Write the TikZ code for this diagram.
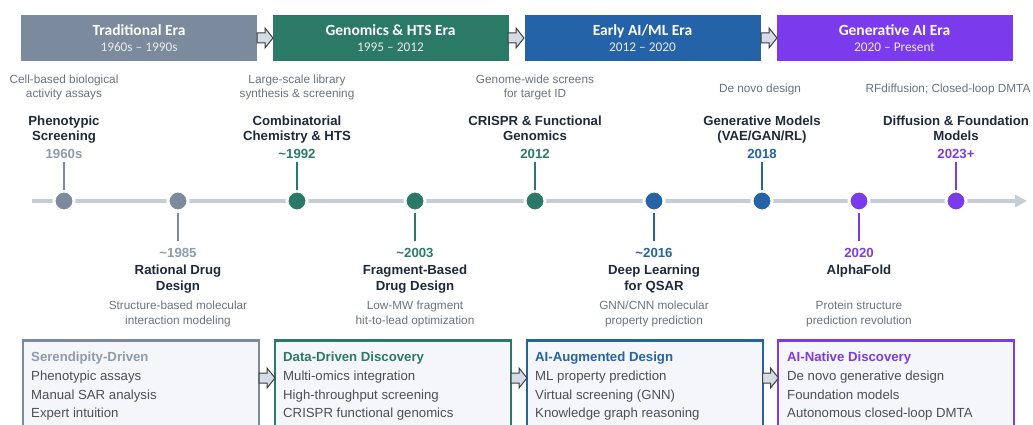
\documentclass[tikz,border=0pt]{standalone}
\usepackage{fontspec}
\setmainfont{Liberation Sans}
\newfontfamily\erafont{Carlito}
\usetikzlibrary{arrows.meta}

\definecolor{tradc}{HTML}{7B8A9C}
\definecolor{tradlt}{HTML}{8E9BAC}
\definecolor{genc}{HTML}{2B7A68}
\definecolor{mlc}{HTML}{2563A8}
\definecolor{aic}{HTML}{7C3AED}
\definecolor{inkc}{HTML}{1E293B}
\definecolor{descc}{HTML}{6B7280}
\definecolor{itemc}{HTML}{4B5058}
\definecolor{linec}{HTML}{C5CED6}
\definecolor{panelc}{HTML}{F4F6F9}
\definecolor{arrfill}{HTML}{D5DCE5}
\definecolor{arrline}{HTML}{3A3D42}

\tikzset{
  erabox/.style={fill=#1, draw=none, minimum width=236, minimum height=46, inner sep=0},
  erahead/.style={anchor=base, inner sep=0, text=white, font=\erafont\fontsize{15.5}{17}\selectfont\bfseries},
  erasub/.style={anchor=base, inner sep=0, text=white!92!black, font=\erafont\fontsize{13.3}{15}\selectfont},
  msdot/.style={circle, fill=#1, draw=white, line width=3, minimum size=20, inner sep=0},
  mstem/.style={draw=#1, line width=1.5},
  mstitle/.style={anchor=base, inner sep=0, text=inkc, font=\fontsize{13.2}{15}\selectfont\bfseries},
  msyear/.style={anchor=base, inner sep=0, text=#1, font=\fontsize{13.2}{15}\selectfont\bfseries},
  msdesc/.style={anchor=base, inner sep=0, text=descc, font=\fontsize{11.8}{14}\selectfont},
  panel/.style={fill=panelc, draw=#1, line width=1.2},
  panelhead/.style={anchor=base west, inner sep=0, text=#1, font=\fontsize{13.2}{15}\selectfont\bfseries},
  panelitem/.style={anchor=base west, inner sep=0, text=itemc, font=\fontsize{13.2}{15}\selectfont},
  blockarrow/.style={fill=arrfill, draw=arrline, line width=1, line join=miter},
  axis/.style={draw=linec, line width=4, -{Triangle[length=12, width=12]}}
}

% block arrow centred on a named coordinate
\newcommand\blockarr[1]{%
  \draw[blockarrow] ([shift={(-8,-5)}]#1) -- ([shift={(0,-5)}]#1) -- ([shift={(0,-10)}]#1)
    -- ([shift={(8,0)}]#1) -- ([shift={(0,10)}]#1) -- ([shift={(0,5)}]#1)
    -- ([shift={(-8,5)}]#1) -- cycle;}

% milestone above the axis: name, x, colour, title line 1, title line 2, year
\newcommand\msabove[6]{%
  \node[msdot=#3] (#1) at (#2,201) {};
  \coordinate (#1s) at (#2,162);
  \draw[mstem=#3] (#1s) -- (#1);
  \node[mstitle] (#1ta) at (#2,125) {#4};
  \node[mstitle] (#1tb) at (#2,141) {#5};
  \node[msyear=#3] (#1y) at (#2,158) {#6};}

% milestone below the axis: name, x, colour, year, title line 1, title line 2
\newcommand\msbelow[6]{%
  \node[msdot=#3] (#1) at (#2,201) {};
  \coordinate (#1s) at (#2,241);
  \draw[mstem=#3] (#1) -- (#1s);
  \node[msyear=#3] (#1y) at (#2,257) {#4};
  \node[mstitle] (#1ta) at (#2,274) {#5};
  \node[mstitle] (#1tb) at (#2,290) {#6};}

\begin{document}
\begin{tikzpicture}[x=1pt, y=-1pt]
\useasboundingbox (0,0) rectangle (1033,425);
\clip (0,0) rectangle (1033,425);

% era banner
\node[erabox=tradc] (eraA) at (139,38) {};
\node[erabox=genc]  (eraB) at (390.5,38) {};
\node[erabox=mlc]   (eraC) at (642.5,38) {};
\node[erabox=aic]   (eraD) at (894.5,38) {};
\node[erahead] (eraAh) at (139,36) {Traditional Era};
\node[erasub]  (eraAs) at (139,52) {1960s – 1990s};
\node[erahead] (eraBh) at (390.5,36) {Genomics \& HTS Era};
\node[erasub]  (eraBs) at (390.5,52) {1995 – 2012};
\node[erahead] (eraCh) at (642.5,36) {Early AI/ML Era};
\node[erasub]  (eraCs) at (642.5,52) {2012 – 2020};
\node[erahead] (eraDh) at (894.5,36) {Generative AI Era};
\node[erasub]  (eraDs) at (894.5,52) {2020 – Present};
\coordinate (ab1) at (265,38);
\coordinate (ab2) at (516,38);
\coordinate (ab3) at (769,38);
\blockarr{ab1}\blockarr{ab2}\blockarr{ab3}

% time axis
\coordinate (axL) at (32,201);
\coordinate (axR) at (1027,201);
\draw[axis] (axL) -- (axR);

% milestones
\msabove{m1}{64}{tradc}{Phenotypic}{Screening}{\textcolor{tradlt}{1960s}}
\msbelow{m2}{178}{tradc}{\textcolor{tradlt}{\textasciitilde1985}}{Rational Drug}{Design}
\msabove{m3}{297}{genc}{Combinatorial}{Chemistry \& HTS}{\textasciitilde1992}
\msbelow{m4}{415}{genc}{\textasciitilde2003}{Fragment-Based}{Drug Design}
\msabove{m5}{535}{genc}{CRISPR \& Functional}{Genomics}{2012}
\msbelow{m6}{654}{mlc}{\textasciitilde2016}{Deep Learning}{for QSAR}
\msabove{m7}{762}{mlc}{Generative Models}{(VAE/GAN/RL)}{2018}
\msbelow{m8}{859}{aic}{2020}{AlphaFold}{}
\msabove{m9}{956}{aic}{Diffusion \& Foundation}{Models}{2023+}

% short descriptions
\node[msdesc] (d1a) at (64,84)  {Cell-based biological};
\node[msdesc] (d1b) at (64,98)  {activity assays};
\node[msdesc] (d3a) at (297,84) {Large-scale library};
\node[msdesc] (d3b) at (297,98) {synthesis \& screening};
\node[msdesc] (d5a) at (535,84) {Genome-wide screens};
\node[msdesc] (d5b) at (535,98) {for target ID};
\node[msdesc] (d7)  at (760,93) {De novo design};
\node[msdesc] (d9)  at (948,93) {RFdiffusion; Closed-loop DMTA};
\node[msdesc] (d2a) at (178,309) {Structure-based molecular};
\node[msdesc] (d2b) at (178,324) {interaction modeling};
\node[msdesc] (d4a) at (415,309) {Low-MW fragment};
\node[msdesc] (d4b) at (415,324) {hit-to-lead optimization};
\node[msdesc] (d6a) at (654,309) {GNN/CNN molecular};
\node[msdesc] (d6b) at (654,324) {property prediction};
\node[msdesc] (d8a) at (859,309) {Protein structure};
\node[msdesc] (d8b) at (859,324) {prediction revolution};

% paradigm panels
\foreach \px/\pc in {23/tradc, 275/genc, 527/mlc, 778/aic}{
  \draw[panel=\pc] (\px,340) rectangle ++(236,110);
  \fill[\pc] (\px-0.6,338.6) rectangle ++(237.2,3.4);
}
\node[panelhead=tradlt] (p1h) at (31,361) {Serendipity-Driven};
\node[panelitem] (p1a) at (31,380.5) {Phenotypic assays};
\node[panelitem] (p1b) at (31,399) {Manual SAR analysis};
\node[panelitem] (p1c) at (31,417.5) {Expert intuition};
\node[panelhead=genc] (p2h) at (283,361) {Data-Driven Discovery};
\node[panelitem] (p2a) at (283,380.5) {Multi-omics integration};
\node[panelitem] (p2b) at (283,399) {High-throughput screening};
\node[panelitem] (p2c) at (283,417.5) {CRISPR functional genomics};
\node[panelhead=mlc] (p3h) at (535,361) {AI-Augmented Design};
\node[panelitem] (p3a) at (535,380.5) {ML property prediction};
\node[panelitem] (p3b) at (535,399) {Virtual screening (GNN)};
\node[panelitem] (p3c) at (535,417.5) {Knowledge graph reasoning};
\node[panelhead=aic] (p4h) at (787,361) {AI-Native Discovery};
\node[panelitem] (p4a) at (787,380.5) {De novo generative design};
\node[panelitem] (p4b) at (787,399) {Foundation models};
\node[panelitem] (p4c) at (787,417.5) {Autonomous closed-loop DMTA};
\coordinate (pb1) at (267,378);
\coordinate (pb2) at (519,378);
\coordinate (pb3) at (770.5,378);
\blockarr{pb1}\blockarr{pb2}\blockarr{pb3}
\end{tikzpicture}
\end{document}
